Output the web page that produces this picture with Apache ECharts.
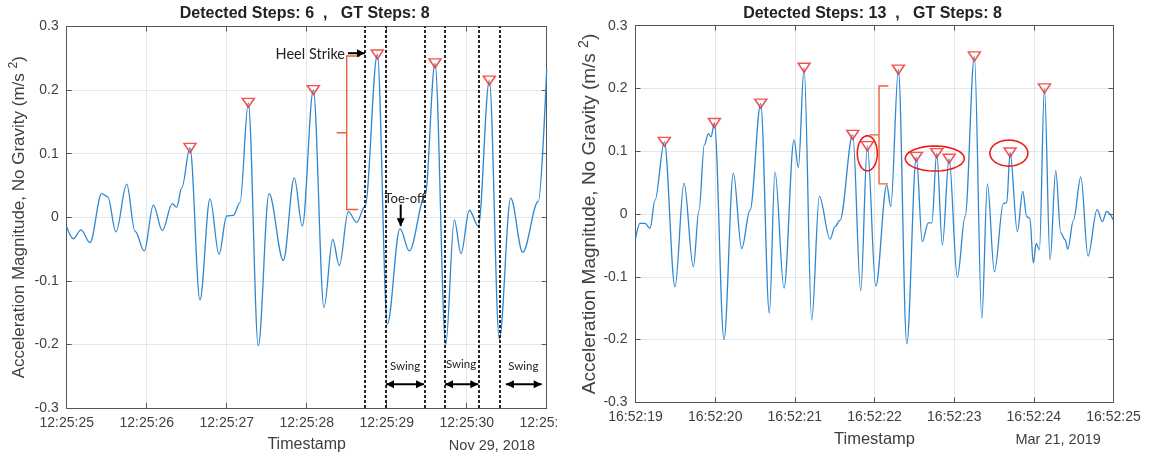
<!DOCTYPE html>
<html>
<head>
<meta charset="utf-8">
<script src="https://cdn.jsdelivr.net/npm/echarts@6/dist/echarts.min.js"></script>
</head>
<body style="margin:0;background:#fff">
<div id="container" style="width:1149px;height:458px"></div>
<script>
// values: time in seconds from the first tick, acceleration in m/s^2
var leftTime = [0, 0.083, 0.179, 0.291, 0.4375, 0.5125, 0.616, 0.75, 0.854, 0.97, 1.083, 1.195, 1.32, 1.375, 1.4375, 1.541,
  1.666, 1.791, 1.904, 2.0, 2.083, 2.166, 2.27, 2.395, 2.529, 2.708, 2.845, 2.945, 3.083, 3.216, 3.325, 3.408, 3.52,
  3.625, 3.729, 3.883, 4.008, 4.166, 4.283, 4.479, 4.604, 4.738, 4.845, 4.929, 5.033, 5.145, 5.283, 5.408, 5.55, 5.7, 5.895, 6.0];
var leftAcc = [-0.015, -0.034, -0.020, -0.040, 0.037, 0.032, -0.023, 0.052, -0.022, -0.053, 0.019, -0.021, 0.0215, 0.016, 0.046, 0.109,
  -0.130, 0.029, -0.058, 0.002, 0.003, 0.023, 0.180, -0.202, 0.037, -0.068, 0.062, -0.014, 0.200, -0.142, -0.035, -0.076, 0.009,
  -0.008, 0.017, 0.256, -0.168, -0.018, -0.053, 0.033, 0.242, -0.200, -0.004, -0.057, 0.011, -0.014, 0.215, -0.192, 0.030, -0.055, 0.025, 0.234];
var leftPeakTime = [1.541, 2.27, 3.083, 3.883, 4.604, 5.283];
var leftPeakAcc = [0.109, 0.180, 0.200, 0.256, 0.242, 0.215];
var leftDashTime = [3.72, 3.991, 4.466, 4.729, 5.146, 5.408];

var rightTime = [0, 0.056, 0.12, 0.182, 0.245, 0.362, 0.496, 0.609, 0.726, 0.797, 0.864, 0.914, 0.948, 0.99, 1.111, 1.228,
  1.333, 1.4375, 1.572, 1.68, 1.751, 1.864, 1.99, 2.044, 2.116, 2.212, 2.308, 2.442, 2.505, 2.567, 2.727, 2.827, 2.91,
  3.016, 3.154, 3.204, 3.30, 3.405, 3.525, 3.60, 3.676, 3.72, 3.781, 3.852, 3.936, 4.04, 4.137, 4.254, 4.347, 4.417,
  4.505, 4.618, 4.66, 4.702, 4.793, 4.861, 4.911, 4.95, 4.994, 5.03, 5.07, 5.133, 5.204, 5.275, 5.338, 5.392, 5.426,
  5.497, 5.59, 5.68, 5.794, 5.86, 5.915, 6.0];
var rightAcc = [-0.040, -0.015, -0.015, -0.023, 0.022, 0.115, -0.116, 0.049, -0.084, 0.006, 0.110, 0.128, 0.123, 0.145, -0.200, 0.065,
  -0.055, 0.006, 0.176, -0.158, 0.067, -0.118, 0.118, 0.074, 0.233, -0.169, 0.028, -0.040, -0.020, -0.010, 0.126, -0.122, 0.108,
  -0.115, 0.046, 0.012, 0.230, -0.207, 0.091, -0.044, -0.014, -0.014, 0.097, -0.049, 0.088, -0.101, -0.004, 0.251, -0.166, 0.048,
  -0.092, 0.017, 0.018, 0.098, -0.028, 0.036, -0.004, -0.007, -0.078, -0.047, -0.057, 0.200, -0.073, 0.069, -0.030, -0.041, -0.056,
  -0.010, 0.059, -0.067, 0.007, -0.012, 0.004, -0.010];
var rightPeakTime = [0.362, 0.99, 1.572, 2.116, 2.727, 2.91, 3.30, 3.525, 3.781, 3.936, 4.254, 4.702, 5.133];
var rightPeakAcc = [0.115, 0.145, 0.176, 0.233, 0.126, 0.108, 0.230, 0.091, 0.097, 0.088, 0.251, 0.098, 0.200];

var leftTickLabels = ['12:25:25', '12:25:26', '12:25:27', '12:25:28', '12:25:29', '12:25:30', '12:25:31'];
var rightTickLabels = ['16:52:19', '16:52:20', '16:52:21', '16:52:22', '16:52:23', '16:52:24', '16:52:25'];
var yTickLabels = ['-0.3', '-0.2', '-0.1', '0', '0.1', '0.2', '0.3'];

function zip(a, b) {
  return a.map(function (v, i) { return [v, b[i]]; });
}

var txt = '#404040';
var axisCol = '#555';
var font = 'Liberation Sans';

function xAx(grid, labels, top, nameSize) {
  return {
    type: 'value', gridIndex: grid, min: 0, max: 6, interval: 1,
    position: top ? 'top' : 'bottom',
    axisLine: { show: true, onZero: false, lineStyle: { color: axisCol } },
    axisTick: { show: true, inside: true, length: 5, lineStyle: { color: axisCol } },
    axisLabel: {
      show: !top, margin: 8, fontSize: 14, color: txt, fontFamily: font,
      formatter: function (v) { return labels[Math.round(v)]; }
    },
    splitLine: { show: !top, lineStyle: { color: '#e6e6e6' } },
    name: top ? '' : 'Timestamp', nameLocation: 'middle', nameGap: 29,
    nameTextStyle: { fontSize: nameSize, color: txt, fontFamily: font }
  };
}

function yAx(grid, right, nameSize, gap) {
  return {
    type: 'value', gridIndex: grid, min: -0.3, max: 0.3, interval: 0.1,
    position: right ? 'right' : 'left',
    axisLine: { show: true, onZero: false, lineStyle: { color: axisCol } },
    axisTick: { show: true, inside: true, length: 5, lineStyle: { color: axisCol } },
    axisLabel: {
      show: !right, margin: 8, fontSize: 14, color: txt, fontFamily: font,
      formatter: function (v) { return yTickLabels[Math.round(v * 10) + 3]; }
    },
    splitLine: { show: !right, lineStyle: { color: '#e6e6e6' } },
    name: right ? '' : '{a|Acceleration Magnitude, No Gravity (m/s }{s|2}{a|)}',
    nameLocation: 'middle', nameGap: gap,
    nameTextStyle: {
      fontFamily: font, color: txt,
      rich: {
        a: { fontSize: nameSize, color: txt, fontFamily: font, lineHeight: nameSize + 6 },
        s: { fontSize: nameSize - 5, color: txt, fontFamily: font, verticalAlign: 'top' }
      }
    }
  };
}

var lineBlue = '#2f87cf';
var peakStyle = { color: 'rgba(0,0,0,0)', borderColor: '#f42525', borderWidth: 1.5 };

var chart = echarts.init(document.getElementById('container'));
var option = {
  animation: false,
  grid: [
    { left: 66.7, right: 602.3, top: 26.5, bottom: 49 },
    { left: 635.5, right: 35.5, top: 25.7, bottom: 55.7 }
  ],
  xAxis: [xAx(0, leftTickLabels, false, 16), xAx(0, leftTickLabels, true, 16),
          xAx(1, rightTickLabels, false, 16.5), xAx(1, rightTickLabels, true, 16.5)],
  yAxis: [yAx(0, false, 17, 36), yAx(0, true, 17, 36),
          yAx(1, false, 19, 33), yAx(1, true, 19, 33)],
  series: [
    {
      type: 'line', xAxisIndex: 0, yAxisIndex: 0, data: zip(leftTime, leftAcc),
      smooth: 0.35, smoothMonotone: 'x', showSymbol: false,
      lineStyle: { color: lineBlue, width: 1.3 },
      markLine: {
        silent: true, symbol: 'none', label: { show: false },
        lineStyle: { color: '#111', type: [3, 2], width: 1.8 },
        data: leftDashTime.map(function (t) { return { xAxis: t }; })
      }
    },
    {
      type: 'scatter', xAxisIndex: 0, yAxisIndex: 0, data: zip(leftPeakTime, leftPeakAcc),
      symbol: 'triangle', symbolRotate: 180, symbolSize: [12, 9], itemStyle: peakStyle, z: 5
    },
    {
      type: 'line', xAxisIndex: 2, yAxisIndex: 2, data: zip(rightTime, rightAcc),
      smooth: 0.35, smoothMonotone: 'x', showSymbol: false,
      lineStyle: { color: lineBlue, width: 1.3 }
    },
    {
      type: 'scatter', xAxisIndex: 2, yAxisIndex: 2, data: zip(rightPeakTime, rightPeakAcc),
      symbol: 'triangle', symbolRotate: 180, symbolSize: [12, 9], itemStyle: peakStyle, z: 5
    }
  ]
};
chart.setOption(option);

// annotations placed in data coordinates
function P(g, t, v) { return chart.convertToPixel({ seriesIndex: g === 0 ? 0 : 2 }, [t, v]); }

var els = [];
function head(tip, from, color) {
  var dx = tip[0] - from[0], dy = tip[1] - from[1];
  var len = Math.sqrt(dx * dx + dy * dy); dx /= len; dy /= len;
  var L = 8, W = 4;
  els.push({ type: 'polygon', z: 20, shape: { points: [tip,
    [tip[0] - dx * L - dy * W, tip[1] - dy * L + dx * W],
    [tip[0] - dx * L + dy * W, tip[1] - dy * L - dx * W]] }, style: { fill: color } });
}
function arrow(a, b, both) {
  els.push({ type: 'line', z: 20, shape: { x1: a[0], y1: a[1], x2: b[0], y2: b[1] }, style: { stroke: '#000', lineWidth: 2 } });
  head(b, a, '#000');
  if (both) head(a, b, '#000');
}
function label(p, s, size, align) {
  els.push({ type: 'text', z: 21, x: p[0], y: p[1], style: { text: s, fontSize: size, fontFamily: 'Lato', fill: '#222',
    textAlign: align || 'center', textVerticalAlign: 'middle' } });
}
function poly(g, pts, color) {
  els.push({ type: 'polyline', z: 19, shape: { points: pts.map(function (q) { return P(g, q[0], q[1]); }) },
    style: { stroke: color, lineWidth: 1.4, fill: null } });
}
function ellipse(g, t, v, rx, ry) {
  var c = P(g, t, v), pts = [];
  for (var i = 0; i <= 60; i++) {
    var a = i / 60 * Math.PI * 2;
    pts.push([c[0] + rx * Math.cos(a), c[1] + ry * Math.sin(a)]);
  }
  els.push({ type: 'polyline', z: 19, shape: { points: pts }, style: { stroke: '#ee1c1c', lineWidth: 1.6, fill: null } });
}

var bracketCol = '#ea5f3e';
// left panel
label(P(0, 3.479, 0.256), 'Heel Strike', 14.5, 'right');
poly(0, [[3.666, 0.2537], [3.5, 0.2537], [3.5, 0.133], [3.375, 0.133], [3.5, 0.133], [3.5, 0.0121], [3.641, 0.0121]], bracketCol);
arrow(P(0, 3.516, 0.258), P(0, 3.729, 0.258));
label(P(0, 4.229, 0.029), 'Toe-off', 13);
arrow(P(0, 4.175, 0.02), P(0, 4.175, -0.014));
label(P(0, 4.229, -0.234), 'Swing', 11.5);
arrow(P(0, 3.991, -0.2625), P(0, 4.466, -0.2625), true);
label(P(0, 4.929, -0.232), 'Swing', 11.5);
arrow(P(0, 4.729, -0.2625), P(0, 5.145, -0.2625), true);
label(P(0, 5.707, -0.234), 'Swing', 11.5);
arrow(P(0, 5.49, -0.2625), P(0, 5.9375, -0.2625), true);
// right panel
poly(1, [[3.174, 0.204], [3.057, 0.204], [3.057, 0.126], [2.935, 0.126], [3.057, 0.126], [3.057, 0.048], [3.17, 0.048]], bracketCol);
ellipse(1, 2.91, 0.0967, 10, 17.5);
ellipse(1, 3.757, 0.0884, 29.5, 12.5);
ellipse(1, 4.687, 0.097, 19, 13);

// titles and dates
var titles = ['Detected Steps: 6  ,   GT Steps: 8', 'Detected Steps: 13  ,   GT Steps: 8'];
var dates = ['Nov 29, 2018', 'Mar 21, 2019'];
var dateT = [5.316, 5.305];
[0, 1].forEach(function (g) {
  var c = P(g, 3, 0.3);
  els.push({ type: 'text', z: 21, x: c[0] - 2, y: 14, style: { text: titles[g], fontSize: 16, fontWeight: 'bold',
    fontFamily: font, fill: '#222', textAlign: 'center', textVerticalAlign: 'middle' } });
  var d = P(g, dateT[g], -0.3);
  els.push({ type: 'text', z: 21, x: d[0], y: d[1] + 38, style: { text: dates[g], fontSize: 14.5,
    fontFamily: font, fill: txt, textAlign: 'center', textVerticalAlign: 'middle' } });
});
// the last left tick label is cut off by the right panel in the original figure
els.push({ type: 'rect', z: 30, shape: { x: 557, y: 412, width: 22, height: 26 }, style: { fill: '#fff' } });

chart.setOption({ graphic: els });
</script>
</body>
</html>
